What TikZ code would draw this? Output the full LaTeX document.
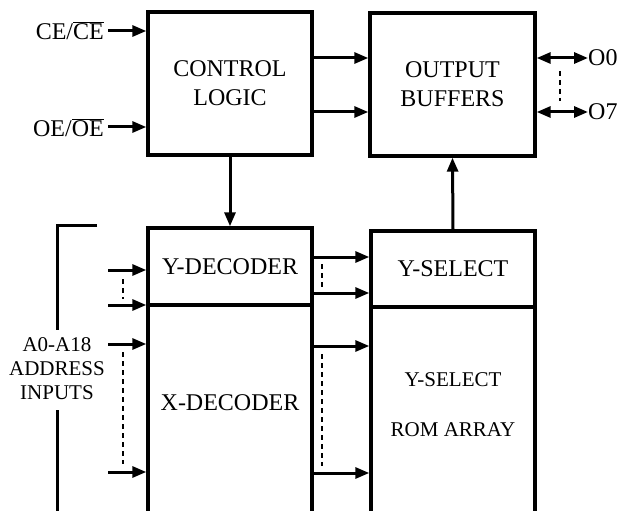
\documentclass[tikz,border=0pt]{standalone}
\usepackage{fontspec}
\setmainfont{Liberation Serif}
\usetikzlibrary{arrows.meta}
\newcommand\ovl[1]{$\overline{\mbox{#1}}$}
\begin{document}
\begin{tikzpicture}[x=1pt,y=-1pt,
  blk/.style={draw,line width=3.4pt,rectangle,inner sep=0pt,font=\fontsize{24}{29}\selectfont,align=center},
  arr/.style={line width=3pt,-{Triangle[length=14pt,width=11pt]}},
  darr/.style={line width=3pt,{Triangle[length=14pt,width=11pt]}-{Triangle[length=14pt,width=11pt]}},
  dots/.style={line width=2.8pt,dash pattern=on 5pt off 4pt},
  lbl/.style={font=\fontsize{24}{29}\selectfont,inner sep=0pt},
  slbl/.style={font=\fontsize{21}{24}\selectfont,inner sep=0pt,align=center}]
\useasboundingbox (0,0) rectangle (625,511);
\clip (0,0) rectangle (625,511);
% blocks
\node[blk,minimum width=164pt,minimum height=143pt] (ctrl) at (230,83.5) {CONTROL\\LOGIC};
\node[blk,minimum width=165pt,minimum height=143pt] (outb) at (452.5,84.5) {OUTPUT\\BUFFERS};
\node[blk,minimum width=164pt,minimum height=77pt] (ydec) at (230,266.5) {Y-DECODER};
\node[blk,minimum width=164pt,minimum height=235pt] (xdec) at (230,422.5) {};
\node[blk,minimum width=164pt,minimum height=76pt] (ysel) at (453,269) {Y-SELECT};
\node[blk,minimum width=164pt,minimum height=233pt] (rom) at (453,423.5) {};
\node[lbl] (xdect) at (230,403) {X-DECODER};
\node[slbl] (romt1) at (453,380) {Y-SELECT};
\node[slbl] (romt2) at (453,430) {ROM ARRAY};
% control inputs
\node[lbl,anchor=east] (ce) at (104,31) {CE/\ovl{CE}};
\node[lbl,anchor=east] (oe) at (104,128) {OE/\ovl{OE}};
\draw[arr] (ce.east) ++(4,0) coordinate (cea) -- (ctrl.west |- cea);
\draw[arr] (oe.east) ++(4,-1) coordinate (oea) -- (ctrl.west |- oea);
% control to output buffers
\coordinate (c1) at (312,58);
\coordinate (c2) at (312,112);
\draw[arr] (ctrl.east |- c1) -- (outb.west |- c1);
\draw[arr] (ctrl.east |- c2) -- (outb.west |- c2);
% outputs
\node[lbl,anchor=west] (o0) at (588,58) {O0};
\node[lbl,anchor=west] (o7) at (588,112) {O7};
\draw[darr] (outb.east |- o0) -- (o0.west);
\draw[darr] (outb.east |- o7) -- (o7.west);
\draw[dots] (560,71) -- (560,101);
% control down to decoder
\draw[arr] (ctrl.south) -- (ydec.north);
% ysel up to output buffers
\draw[arr] (ysel.north) -- (outb.south);
% address inputs
\coordinate (a1) at (108,270);
\coordinate (a2) at (108,305);
\coordinate (a3) at (108,344);
\coordinate (a4) at (108,472);
\draw[arr] (a1) -- (ydec.west |- a1);
\draw[arr] (a2) -- (ydec.west |- a2);
\draw[arr] (a3) -- (xdec.west |- a3);
\draw[arr] (a4) -- (xdec.west |- a4);
\draw[dots] (123,279) -- (123,299);
\draw[dots] (123,352) -- (123,464);
% decoders to select / array
\coordinate (b1) at (312,257);
\coordinate (b2) at (312,293);
\coordinate (b3) at (312,346);
\coordinate (b4) at (312,473);
\draw[arr] (ydec.east |- b1) -- (ysel.west |- b1);
\draw[arr] (ydec.east |- b2) -- (ysel.west |- b2);
\draw[arr] (xdec.east |- b3) -- (rom.west |- b3);
\draw[arr] (xdec.east |- b4) -- (rom.west |- b4);
\draw[dots] (322,264) -- (322,288);
\draw[dots] (322,354) -- (322,466);
% bracket and label
\node[slbl] (addr) at (57,369) {A0-A18\\ADDRESS\\INPUTS};
\draw[line width=3pt] (97,225) -- (57,225) -- (57,330);
\draw[line width=3pt] (57,410) -- (57,515);
\end{tikzpicture}
\end{document}
